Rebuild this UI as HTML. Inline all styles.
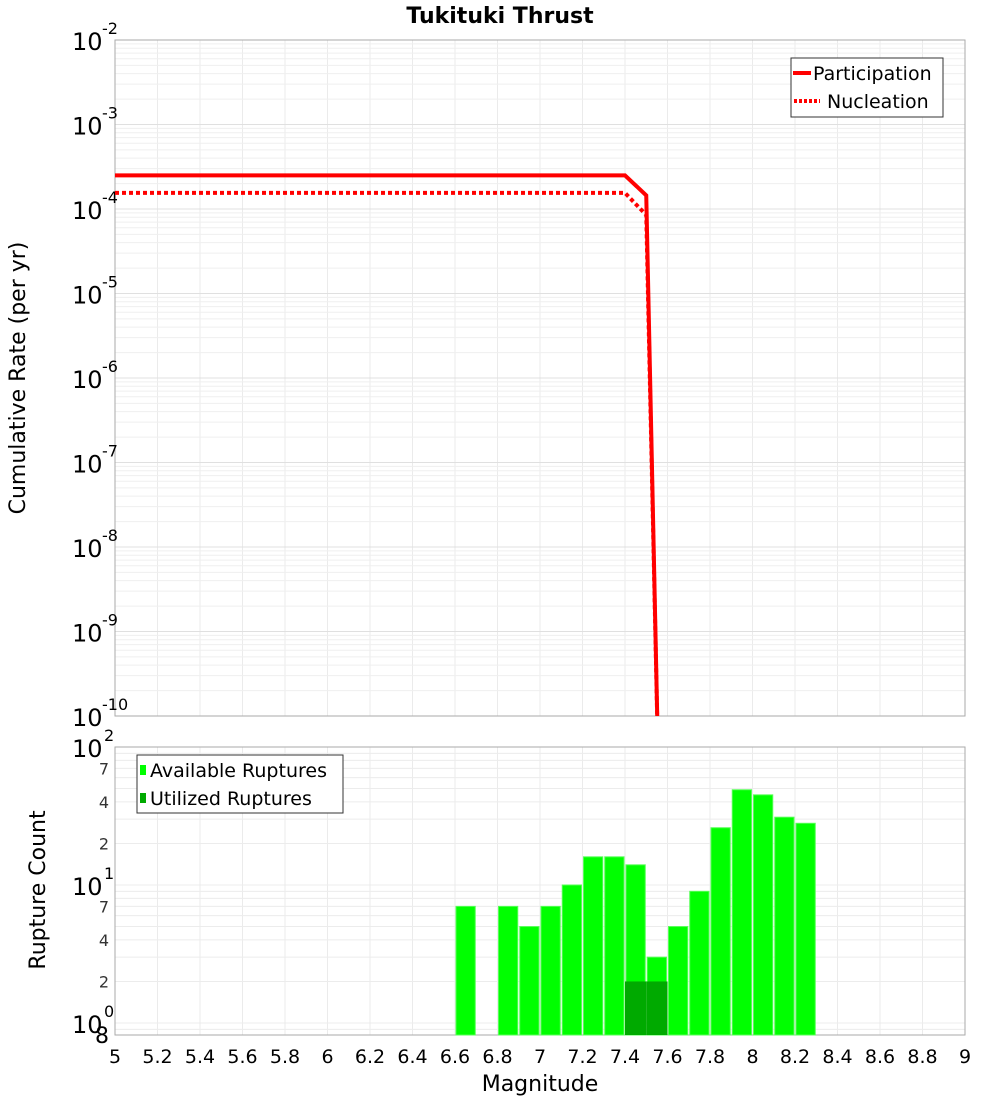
<!DOCTYPE html>
<html><head><meta charset="utf-8"><style>
body{margin:0;background:#fff;font-family:"DejaVu Sans","Liberation Sans",sans-serif;}
svg text{font-family:"DejaVu Sans","Liberation Sans",sans-serif;}
</style></head><body>
<svg id="c" width="1000" height="1100" xmlns="http://www.w3.org/2000/svg">
<text x="500" y="23" text-anchor="middle" font-size="22" font-weight="bold">Tukituki Thrust</text>
<g id="top"></g>
<g id="bot"></g>
<text transform="translate(25,378) rotate(-90)" text-anchor="middle" font-size="22">Cumulative Rate (per yr)</text>
<text transform="translate(45,890) rotate(-90)" text-anchor="middle" font-size="22">Rupture Count</text>
<text x="540" y="1091" text-anchor="middle" font-size="22">Magnitude</text>
</svg>
<script>
const partMags=[5,7.4,7.5,7.56];
const partVals=[2.5e-4,2.5e-4,1.45e-4,1e-11];
const nuclMags=[5,7.4,7.5,7.56];
const nuclVals=[1.55e-4,1.55e-4,8.5e-5,1e-11];
const binStarts=[6.6,6.8,6.9,7.0,7.1,7.2,7.3,7.4,7.5,7.6,7.7,7.8,7.9,8.0,8.1,8.2];
const availCounts=[7,7,5,7,10,16,16,14,3,5,9,26,49,45,31,28];
const utilBins=[7.4,7.5];
const utilCounts=[2,2];
const xTicks=[5,5.2,5.4,5.6,5.8,6,6.2,6.4,6.6,6.8,7,7.2,7.4,7.6,7.8,8,8.2,8.4,8.6,8.8,9];
const rateExps=[-2,-3,-4,-5,-6,-7,-8,-9,-10];
const countMinor=[2,4,7,20,40,70];

const NS="http://www.w3.org/2000/svg";
const L=115,R=965;
const xs=m=>L+(m-5)/4*(R-L);
const T1=40,B1=716;
const yR=v=>T1+(-2-Math.log10(v))/8*(B1-T1);
const T2=747,B2=1035;
const yC=v=>885-(Math.log10(v)-1)*138;
function el(p,tag,a,name,txt){const e=document.createElementNS(NS,tag);for(const k in a)e.setAttribute(k,a[k]);


if(txt!==undefined)e.textContent=txt;p.appendChild(e);return e;}
const gTop=document.getElementById('top'),gBot=document.getElementById('bot');
for(let i=0;i<=20;i++){const X=xs(5+i*0.2);
el(gTop,'line',{x1:X,x2:X,y1:T1,y2:B1,stroke:'#ebebeb'},'x-grid');
el(gBot,'line',{x1:X,x2:X,y1:T2,y2:B2,stroke:'#ebebeb'},'x-grid');}
for(let e=-10;e<-2;e++)for(let k=1;k<10;k++){const Y=yR(k*Math.pow(10,e));
el(gTop,'line',{x1:L,x2:R,y1:Y,y2:Y,stroke:k==1?'#e0e0e0':'#efefef'},'y-grid');}
for(let e=-1;e<2;e++)for(let k=1;k<10;k++){const v=k*Math.pow(10,e);const Y=yC(v);if(Y>B2||Y<T2)continue;
el(gBot,'line',{x1:L,x2:R,y1:Y,y2:Y,stroke:'#ececec'},'y-grid');}
el(gTop,'rect',{x:L,y:T1,width:R-L,height:B1-T1,fill:'none',stroke:'#aaa'},'plot-frame');
el(gBot,'rect',{x:L,y:T2,width:R-L,height:B2-T2,fill:'none',stroke:'#aaa'},'plot-frame');
rateExps.forEach(e=>{const Y=yR(Math.pow(10,e));el(gTop,'text',{x:72,y:Y+10,'font-size':24},'y-tick-label','10');
el(gTop,'text',{x:102,y:Y-6,'font-size':16},'y-tick-exp',String(e));});
[0,1,2].forEach(e=>{const Y=yC(Math.pow(10,e));el(gBot,'text',{x:72,y:Y+10,'font-size':24},'y-tick-label','10');
el(gBot,'text',{x:104,y:Y-6,'font-size':16},'y-tick-exp',String(e));});
countMinor.forEach(v=>{const Y=yC(v);el(gBot,'text',{x:104,y:Y+6,'font-size':16,'text-anchor':'middle',fill:'#333'},'y-minor-label',String(v).charAt(0));});
el(gBot,'text',{x:102,y:B2+8,'font-size':22,'text-anchor':'middle'},'y-minor-label','8');
xTicks.forEach(m=>el(gBot,'text',{x:xs(m),y:1063,'font-size':19,'text-anchor':'middle'},'x-tick-label',String(m)));
const clip=el(gTop,'clipPath',{id:'cp'},'clip');el(clip,'rect',{x:L,y:T1,width:R-L,height:B1-T1},'clip-rect');
const pts=(ms,vs)=>ms.map((m,i)=>xs(m)+','+yR(vs[i])).join(' ');
el(gTop,'polyline',{points:pts(partMags,partVals),fill:'none',stroke:'#f00','stroke-width':4,'clip-path':'url(#cp)'},'participation-line');
el(gTop,'polyline',{points:pts(nuclMags,nuclVals),fill:'none',stroke:'#f00','stroke-width':4,'stroke-dasharray':'4,3','clip-path':'url(#cp)'},'nucleation-line');
binStarts.forEach((m,i)=>{const X=xs(m),W=xs(m+0.1)-X;const Y=yC(availCounts[i]);
el(gBot,'rect',{x:X+1,y:Y,width:W-2,height:B2-Y,fill:'#00ff00',stroke:'#55ff55','stroke-width':1},'bar-available');});
utilBins.forEach((m,i)=>{const X=xs(m),W=xs(m+0.1)-X;const Y=yC(utilCounts[i]);
el(gBot,'rect',{x:X,y:Y,width:W,height:B2-Y,fill:'#00aa00'},'bar-utilized');});
el(gTop,'rect',{x:791,y:58,width:152,height:59,fill:'#fff',stroke:'#333'},'legend-box');
el(gTop,'line',{x1:793,x2:811,y1:73,y2:73,stroke:'#f00','stroke-width':4},'legend-swatch');
el(gTop,'text',{x:813,y:80,'font-size':19},'legend-entry','Participation');
el(gTop,'line',{x1:794,x2:820,y1:101,y2:101,stroke:'#f00','stroke-width':4,'stroke-dasharray':'3,2'},'legend-swatch');
el(gTop,'text',{x:827,y:108,'font-size':19},'legend-entry','Nucleation');
el(gBot,'rect',{x:137,y:755,width:206,height:58,fill:'#fff',stroke:'#333'},'legend-box');
el(gBot,'rect',{x:140,y:765,width:6,height:10,fill:'#00ff00'},'legend-swatch');
el(gBot,'text',{x:150,y:777,'font-size':19},'legend-entry','Available Ruptures');
el(gBot,'rect',{x:140,y:793,width:6,height:10,fill:'#00aa00'},'legend-swatch');
el(gBot,'text',{x:150,y:805,'font-size':19},'legend-entry','Utilized Ruptures');
</script>
</body></html>
